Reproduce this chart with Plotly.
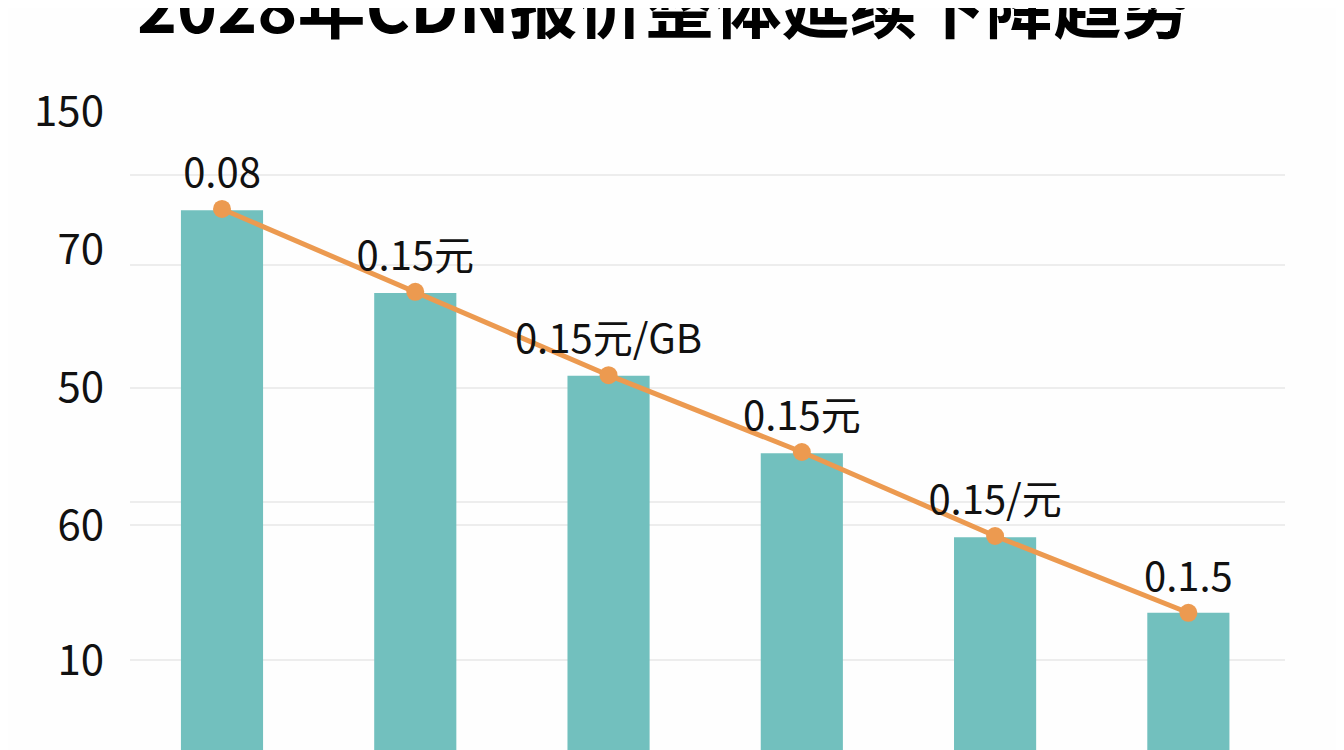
import plotly.graph_objects as go

# 数据
categories = [0, 1, 2, 3, 4, 5]
bar_values = [91.3, 77.5, 63.7, 50.8, 36.8, 24.2]
line_values = [91.5, 77.7, 63.8, 51.0, 37.0, 24.2]
point_labels = ['0.08', '0.15元', '0.15元/GB', '0.15元', '0.15/元', '0.1.5']

tick_vals = [107.7, 84.7, 61.7, 38.8, 16.3]
tick_text = ['150', '70', '50', '60', '10']
grid_vals = [97.2, 82.2, 61.7, 42.7, 38.8, 16.3]

title_text = '2028年CDN报价整体延续下降趋势'
font_cn = 'Noto Sans CJK SC'

fig = go.Figure()

fig.add_trace(go.Bar(x=categories, y=bar_values, width=0.425,
                     marker=dict(color='#72C0BE', line=dict(width=0)),
                     showlegend=False, hoverinfo='skip'))

fig.add_trace(go.Scatter(x=categories, y=line_values, mode='lines+markers+text',
                         line=dict(color='#EC9A50', width=5),
                         marker=dict(color='#EC9A50', size=18),
                         text=point_labels, textposition='top center',
                         textfont=dict(size=40, color='#111111', family=font_cn),
                         showlegend=False, cliponaxis=False))

# 第二个 y 轴只用来画网格线
fig.add_trace(go.Scatter(x=[categories[0]], y=[grid_vals[0]], yaxis='y2',
                         mode='markers', marker=dict(opacity=0),
                         showlegend=False, hoverinfo='skip'))

# 标题（原图顶部被裁掉一截）
fig.add_annotation(text='<b>' + title_text + '</b>', xref='paper', yref='paper',
                   x=0.462, y=1.13, xanchor='center', yanchor='middle',
                   showarrow=False,
                   font=dict(size=68, color='#000000', family=font_cn))

fig.update_layout(
    width=1344, height=750,
    paper_bgcolor='#FEFEFE', plot_bgcolor='rgba(0,0,0,0)',
    margin=dict(l=122, r=67, t=82, b=0),
    xaxis=dict(range=[-0.476, 5.5], showticklabels=False, showgrid=False,
               zeroline=False, showline=False),
    yaxis=dict(range=[0, 111.33], tickvals=tick_vals, ticktext=tick_text,
               showgrid=False, zeroline=False, showline=False, ticks='',
               ticklabelstandoff=25, automargin=False,
               tickfont=dict(size=42, color='#111111', family=font_cn)),
    yaxis2=dict(range=[0, 111.33], overlaying='y', tickvals=grid_vals,
                showticklabels=False, showgrid=True, gridcolor='#EDEDED',
                gridwidth=1.5, zeroline=False, layer='below traces'),
    bargap=0.5,
)

fig.write_html("out.html")
